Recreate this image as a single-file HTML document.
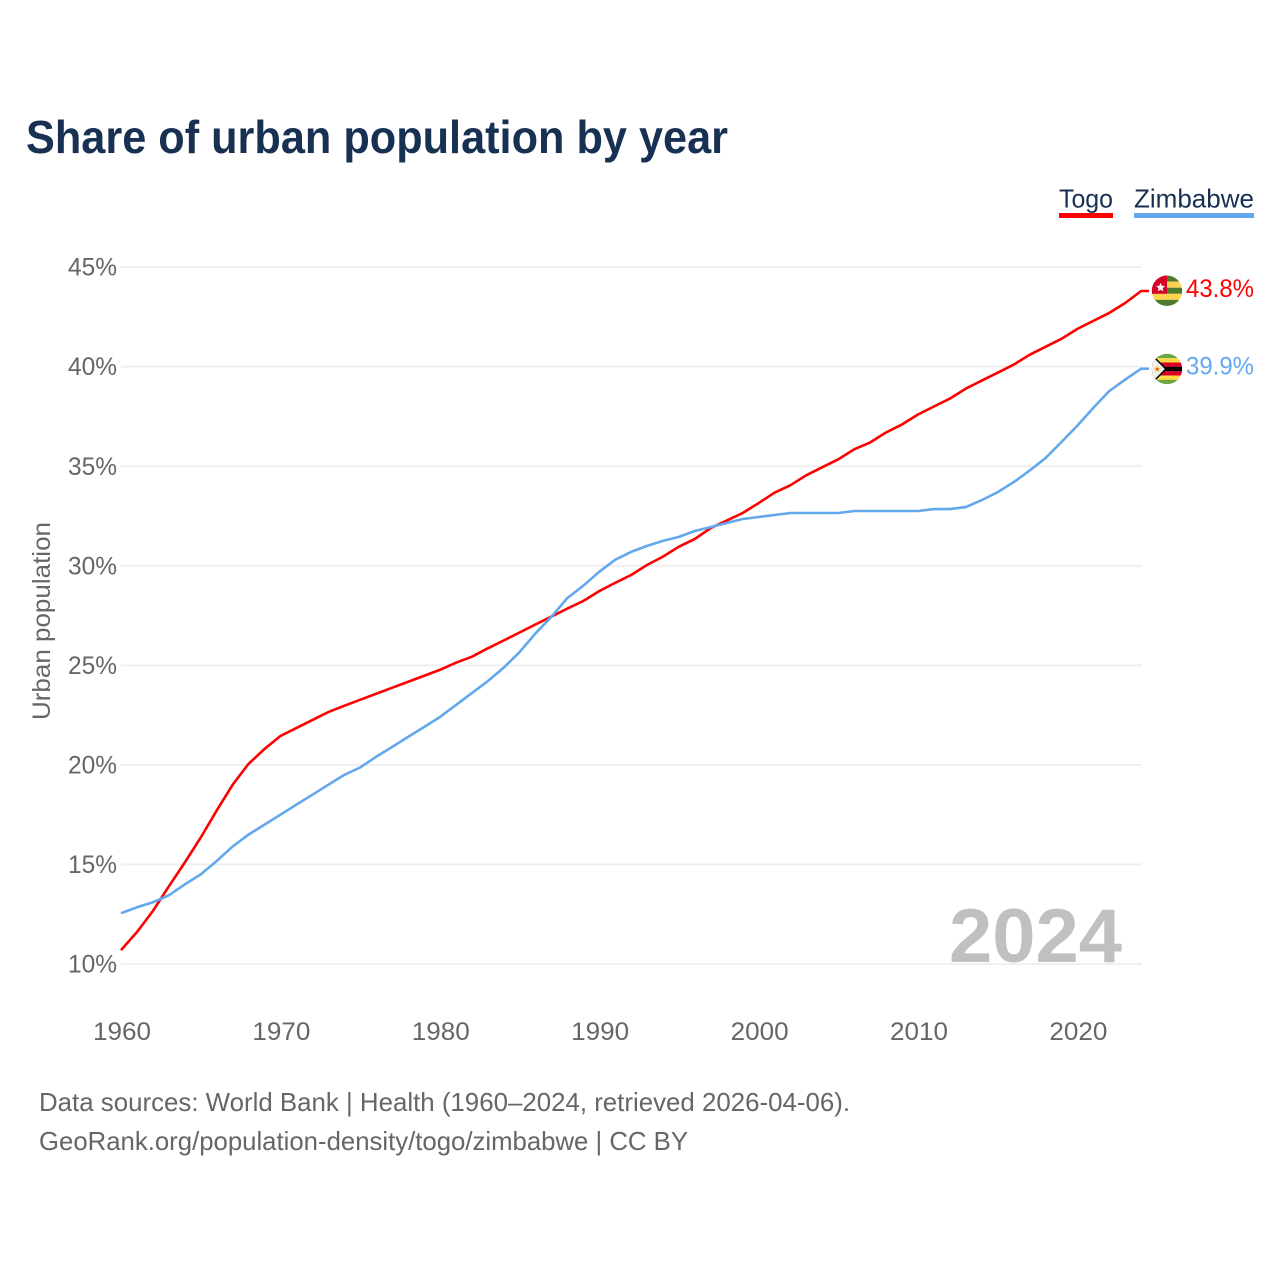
<!DOCTYPE html>
<html lang="en">
<head>
<meta charset="utf-8">
<title>Share of urban population by year</title>
<style>
html,body{margin:0;padding:0;background:#fff;width:1280px;height:1280px;overflow:hidden}
svg{display:block;font-family:"Liberation Sans",sans-serif}
</style>
</head>
<body>
<svg id="chart" xmlns="http://www.w3.org/2000/svg" width="1280" height="1280" viewBox="0 0 1280 1280">
  <rect width="1280" height="1280" fill="#fff"/>
  <text x="26" y="153" font-size="46" font-weight="700" fill="#183153" textLength="702" lengthAdjust="spacingAndGlyphs">Share of urban population by year</text>
  <g>
    <text x="1059" y="207.5" font-size="26" fill="#183153" textLength="54" lengthAdjust="spacingAndGlyphs">Togo</text>
    <rect x="1059" y="213" width="54" height="5" fill="#ff0000"/>
  </g>
  <g>
    <text x="1134" y="207.5" font-size="26" fill="#183153" textLength="120" lengthAdjust="spacingAndGlyphs">Zimbabwe</text>
    <rect x="1134" y="213" width="120" height="5" fill="#63a8ec"/>
  </g>
  <text transform="translate(50,621) rotate(-90)" text-anchor="middle" font-size="25" fill="#666" textLength="198" lengthAdjust="spacingAndGlyphs">Urban population</text>
  <g id="grid"></g>
  <g id="yticks"></g>
  <g id="xticks"></g>
  <text x="1122" y="962" text-anchor="end" font-size="76" font-weight="700" fill="#c0c0c0" textLength="173" lengthAdjust="spacingAndGlyphs">2024</text>
  <g id="series"></g>
  <g id="flags"></g>
  <text x="39" y="1111" font-size="26" fill="#666" textLength="811" lengthAdjust="spacingAndGlyphs">Data sources: World Bank | Health (1960–2024, retrieved 2026-04-06).</text>
  <text x="39" y="1150" font-size="26" fill="#666" textLength="649" lengthAdjust="spacingAndGlyphs">GeoRank.org/population-density/togo/zimbabwe | CC BY</text>
</svg>
<script>
const firstYear = 1960;
const xTickYears = [1960, 1970, 1980, 1990, 2000, 2010, 2020];
const yTickValues = [10, 15, 20, 25, 30, 35, 40, 45];
const togoValues = [10.7, 11.6, 12.66, 13.9, 15.1, 16.35, 17.7, 19.0, 20.05, 20.8, 21.45, 21.85, 22.25, 22.65, 22.97, 23.27, 23.57, 23.87, 24.17, 24.47, 24.77, 25.13, 25.43, 25.85, 26.25, 26.65, 27.05, 27.45, 27.85, 28.23, 28.73, 29.14, 29.54, 30.04, 30.46, 30.96, 31.35, 31.9, 32.27, 32.65, 33.15, 33.67, 34.05, 34.55, 34.95, 35.35, 35.85, 36.2, 36.7, 37.1, 37.6, 38.0, 38.4, 38.9, 39.3, 39.7, 40.1, 40.6, 41.0, 41.4, 41.9, 42.3, 42.7, 43.2, 43.8];
const zimbabweValues = [12.55, 12.85, 13.1, 13.45, 14.0, 14.5, 15.17, 15.9, 16.5, 17.0, 17.5, 18.0, 18.5, 19.0, 19.5, 19.87, 20.4, 20.9, 21.4, 21.9, 22.4, 23.0, 23.6, 24.2, 24.88, 25.66, 26.6, 27.44, 28.38, 29.0, 29.7, 30.3, 30.7, 31.0, 31.25, 31.45, 31.75, 31.95, 32.15, 32.35, 32.45, 32.55, 32.65, 32.65, 32.65, 32.65, 32.75, 32.75, 32.75, 32.75, 32.75, 32.85, 32.85, 32.95, 33.3, 33.7, 34.2, 34.78, 35.41, 36.22, 37.04, 37.93, 38.78, 39.35, 39.9];

const NS = 'http://www.w3.org/2000/svg';
function xScale(year) { return 121 + (year - firstYear) * 15.94; }
function yScale(value) { return 964 - (value - 10) * 19.91; }
function make(tag, attrs, parent) {
  const el = document.createElementNS(NS, tag);
  for (const k in attrs) el.setAttribute(k, attrs[k]);
  parent.appendChild(el);
  return el;
}
const gridG = document.getElementById('grid');
const yG = document.getElementById('yticks');
const xG = document.getElementById('xticks');
const seriesG = document.getElementById('series');
const flagsG = document.getElementById('flags');

yTickValues.forEach(function (v) {
  const line = make('line', {x1: 121, x2: 1142, y1: yScale(v), y2: yScale(v), stroke: '#eeeeee', 'stroke-width': 1.8}, gridG);
  
  
  const t = make('text', {x: 117, y: yScale(v) + 8.5, 'text-anchor': 'end', 'font-size': 25, fill: '#666', textLength: 49, lengthAdjust: 'spacingAndGlyphs'}, yG);
  t.textContent = v + '%';
  
  
});

xTickYears.forEach(function (y) {
  const t = make('text', {x: xScale(y) + 1, y: 1040, 'text-anchor': 'middle', 'font-size': 25, fill: '#666', textLength: 58, lengthAdjust: 'spacingAndGlyphs'}, xG);
  t.textContent = y;
  
  
});

function drawSeries(values, color, key) {
  const pts = values.map(function (v, i) { return xScale(firstYear + i).toFixed(1) + ',' + yScale(v).toFixed(1); });
  const lastY = yScale(values[values.length - 1]);
  pts.push('1149,' + lastY.toFixed(1));
  const line = make('polyline', {points: pts.join(' '), fill: 'none', stroke: color, 'stroke-width': 2.6, 'stroke-linejoin': 'round'}, seriesG);
  
  
  const label = make('text', {x: 1254, y: lastY + 6, 'text-anchor': 'end', 'font-size': 25, fill: color, textLength: 68, lengthAdjust: 'spacingAndGlyphs'}, seriesG);
  label.textContent = values[values.length - 1].toFixed(1) + '%';
  
  
  return lastY;
}

function star(cx, cy, r, fill, parent) {
  const p = [];
  for (let i = 0; i < 10; i++) {
    const a = -Math.PI / 2 + i * Math.PI / 5;
    const rr = i % 2 ? r * 0.45 : r;
    p.push((cx + rr * Math.cos(a)).toFixed(2) + ',' + (cy + rr * Math.sin(a)).toFixed(2));
  }
  return make('polygon', {points: p.join(' '), fill: fill}, parent);
}

function flag(key, cy, paint) {
  const clipId = 'clip-' + key;
  const clip = make('clipPath', {id: clipId}, flagsG);
  make('circle', {cx: 1167, cy: cy, r: 15.2}, clip);
  const g = make('g', {'clip-path': 'url(#' + clipId + ')'}, flagsG);
  
  
  paint(g, 1151.8, cy - 15.2);
}

const togoY = drawSeries(togoValues, '#ff0000', 'togo');
const zimY = drawSeries(zimbabweValues, '#63a8ec', 'zimbabwe');

flag('togo', togoY - 0.3, function (g, x, y) {
  const colors = ['#4e7a2d', '#ffd34d', '#4e7a2d', '#ffd34d', '#4e7a2d'];
  colors.forEach(function (c, i) {
    make('rect', {x: x, y: y + i * 6.08, width: 30.4, height: 6.1, fill: c}, g);
  });
  make('rect', {x: x, y: y, width: 15.2, height: 18.2, fill: '#d80027'}, g);
  star(x + 8.8, y + 12, 4.8, '#f4f4f4', g);
});

flag('zimbabwe', zimY + 0.3, function (g, x, y) {
  const colors = ['#6da544', '#ffda44', '#d80027', '#000000', '#d80027', '#ffda44', '#6da544'];
  colors.forEach(function (c, i) {
    make('rect', {x: x, y: y + i * 30.4 / 7, width: 30.4, height: 30.4 / 7 + 0.1, fill: c}, g);
  });
  make('polygon', {points: [x, y, x + 15.2, y + 15.2, x, y + 30.4].join(','), fill: '#000'}, g);
  make('polygon', {points: [x, y + 2, x + 13, y + 15.2, x, y + 28.4].join(','), fill: '#f0f0f0'}, g);
  star(x + 5.5, y + 15.2, 4.2, '#ffc53d', g);
  make('circle', {cx: x + 5.5, cy: y + 15.4, r: 1.2, fill: '#e0403a'}, g);
});
</script>
</body>
</html>
